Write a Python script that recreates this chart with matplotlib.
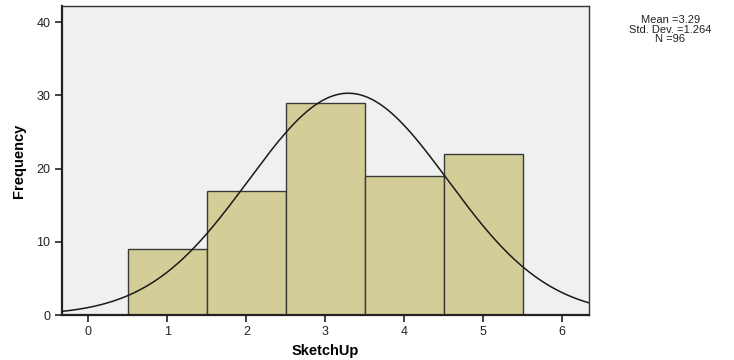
import numpy as np
import matplotlib
matplotlib.use("Agg")
import matplotlib.pyplot as plt

plt.rcParams['font.family'] = ['Liberation Sans', 'DejaVu Sans']

# Histogram of SketchUp scores
categories = [1, 2, 3, 4, 5]
counts = [9, 17, 29, 19, 22]
mean = 3.29
std = 1.264
n = 96
x_ticks = [0, 1, 2, 3, 4, 5, 6]
y_ticks = [0, 10, 20, 30, 40]

fig = plt.figure(figsize=(7.34, 3.60), dpi=100)
ax = fig.add_axes([0.0845, 0.125, 0.7175, 0.858])
ax.set_facecolor('#F0F0F0')

ax.bar(categories, counts, width=1.0, color='#D3CE98', edgecolor='#3a3a3a',
       linewidth=1.0, zorder=2)

xs = np.linspace(-0.333, 6.333, 400)
pdf = n * 1.0 * np.exp(-0.5 * ((xs - mean) / std) ** 2) / (std * np.sqrt(2 * np.pi))
ax.plot(xs, pdf, color='#1a1a1a', linewidth=1.1, zorder=3)

ax.set_xlim(-0.333, 6.333)
ax.set_ylim(0, 42.2)
ax.set_xticks(x_ticks)
ax.set_yticks(y_ticks)
ax.tick_params(axis='both', direction='out', length=5, width=1.2,
               labelsize=9, colors='#222222')
ax.tick_params(axis='x', pad=3)

for side in ['left', 'bottom']:
    ax.spines[side].set_linewidth(1.6)
    ax.spines[side].set_color('#222222')
for side in ['top', 'right']:
    ax.spines[side].set_linewidth(1.0)
    ax.spines[side].set_color('#333333')

ax.set_xlabel('SketchUp', fontsize=10.5, fontweight='bold', labelpad=4)
ax.set_ylabel('Frequency', fontsize=10.5, fontweight='bold', labelpad=7)

fig.text(0.913, 0.958, f'Mean ={mean}\nStd. Dev. ={std}\nN ={n}',
         ha='center', va='top', fontsize=8, linespacing=0.95, color='#222222')

fig.savefig('out.png', dpi=100)
